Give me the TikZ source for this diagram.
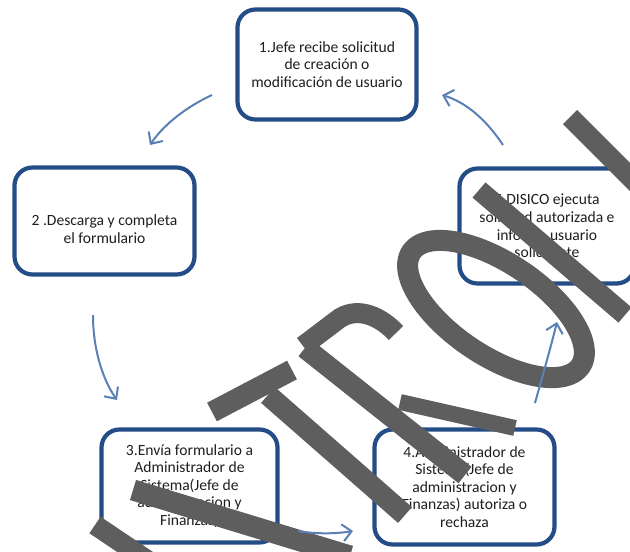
\documentclass[tikz,border=0pt]{standalone}
\usepackage{fontspec}
\setmainfont{Carlito}
\usetikzlibrary{arrows.meta,calc}
\definecolor{boxblue}{HTML}{244C86}
\definecolor{arrowblue}{HTML}{5A80B6}
\definecolor{wmgray}{HTML}{5E5E5E}
\begin{document}
\begin{tikzpicture}[x=1pt,y=-1pt,
  stepbox/.style={draw=boxblue,line width=4.2pt,rounded corners=18pt,fill=white,inner sep=0pt},
  boxtext/.style={align=center,font=\fontsize{15.6}{17.6}\selectfont,text=black!88},
  flow/.style={draw=arrowblue,line width=2pt,-{Straight Barb[length=9pt,width=17pt,line width=2pt]}},
  wm/.style={draw=wmgray,line width=21pt}]
\useasboundingbox (0,0) rectangle (630,552);
\fill[white] (0,0) rectangle (630,552);
% boxes
\node[stepbox,minimum width=179pt,minimum height=110pt] (b1) at (327,64.5) {};
\node[stepbox,minimum width=180pt,minimum height=107pt] (b2) at (104.5,221) {};
\node[stepbox,minimum width=175pt,minimum height=115pt] (b5) at (547,226) {};
\node[stepbox,minimum width=176pt,minimum height=113pt] (b3) at (189.5,486) {};
\node[stepbox,minimum width=180pt,minimum height=115pt] (b4) at (464.5,487) {};
% texts
\node[boxtext] (t1) at (b1) {1.Jefe recibe solicitud\\de creación o\\modificación de usuario};
\node[boxtext] (t2) at ($(b2)+(0,8)$) {2 .Descarga y completa\\el formulario};
\node[boxtext] (t5) at (b5) {5.DISICO ejecuta\\solicitud autorizada e\\informa usuario\\solicitante};
\node[boxtext] (t3) at (b3) {3.Envía formulario a\\Administrador de\\Sistema(Jefe de\\administracion y\\Finanzas)};
\node[boxtext] (t4) at (b4) {4.Administrador de\\Sistema(Jefe de\\administracion y\\Finanzas) autoriza o\\rechaza};
% watermark strokes
\draw[wm] (133,490) -- (350,556);
\draw[wm,line width=20pt] (95,525) -- (150,562);
\draw[wm] (212,412) -- (292,370);
\draw[wm] (268,395) -- (405,515);
\draw[wm,line width=20pt] (303,346) -- (340,318) .. controls (360,306) and (382,318) .. (396,333);
\draw[wm] (305,348) -- (465,475);
\draw[wm,line width=16pt] (400,402) -- (515,428);
\draw[wm] plot[variable=\t,domain=0:357,samples=120]
  ({496+102*cos(\t)*cos(34)-46*sin(\t)*sin(34)},{309+102*cos(\t)*sin(34)+46*sin(\t)*cos(34)}) -- cycle;
\draw[wm,line width=20pt] (479,190) -- (625,315);
\draw[wm,line width=20pt] (570,117) -- (645,192);
% connectors
\coordinate (a1s) at (212,95);   \coordinate (a1e) at (150,145);
\coordinate (a2s) at (93,315);   \coordinate (a2e) at (117,400);
\coordinate (a3s) at (298,531);  \coordinate (a3e) at (353,531);
\coordinate (a4s) at (535,403);  \coordinate (a4e) at (557,322);
\coordinate (a5s) at (503,145);  \coordinate (a5e) at (442,95);
\draw[flow] (a1s) .. controls (188,106) and (164,124) .. (a1e);
\draw[flow] (a2s) .. controls (93,350) and (103,380) .. (a2e);
\draw[flow] (a3s) .. controls (315,534) and (335,534) .. (a3e);
\draw[flow] (a4s) .. controls (542,378) and (550,350) .. (a4e);
\draw[flow] (a5s) .. controls (485,118) and (465,102) .. (a5e);
\end{tikzpicture}
\end{document}
